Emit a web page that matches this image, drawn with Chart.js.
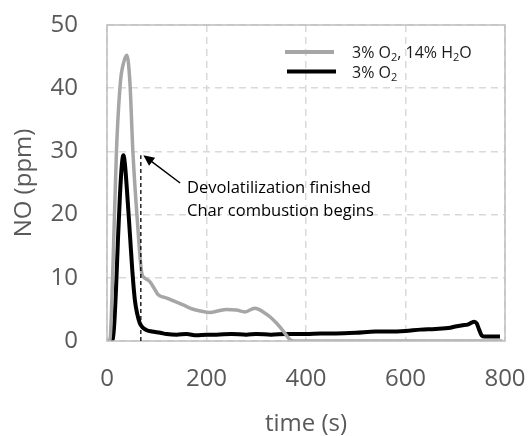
<!DOCTYPE html>
<html>
<head>
<meta charset="utf-8">
<script src="https://cdn.jsdelivr.net/npm/chart.js@4/dist/chart.umd.min.js"></script>
<style>
  html, body { margin: 0; padding: 0; background: #fff; }
  canvas { display: block; }
</style>
</head>
<body>
<canvas id="c" width="531" height="436"></canvas>
<script>
// ---- data ----
const seriesNames = ["3% O2, 14% H2O", "3% O2"];

const timeWet = [0, 6, 12, 19, 27, 34, 40, 46, 52, 61, 70, 75, 86, 95, 103, 120, 135, 153, 170, 190, 207, 225, 240, 260, 277, 290, 297, 305, 314, 328, 341, 355, 368, 376, 450, 550, 650, 750, 795];
const noWet   = [0, 0.3, 12, 30, 41, 44.2, 45.2, 41, 30, 19, 10.7, 10.0, 9.4, 8.3, 7.3, 6.8, 6.3, 5.7, 5.1, 4.7, 4.5, 4.8, 5.0, 4.9, 4.6, 5.0, 5.2, 5.0, 4.6, 3.8, 2.8, 1.5, 0.2, 0, 0, 0, 0, 0, 0];

const timeDry = [0, 10, 14, 18, 22, 26, 30, 33, 36, 40, 46, 51, 56, 61, 66, 72, 80, 90, 107, 120, 140, 160, 180, 200, 220, 250, 280, 300, 330, 360, 400, 430, 460, 500, 540, 570, 600, 630, 660, 690, 700, 715, 725, 733, 738, 743, 748, 753, 760, 790];
const noDry   = [0, 0, 2, 8, 16, 23, 28, 29.4, 28, 24, 17, 11, 6.5, 4.2, 2.8, 2.1, 1.7, 1.5, 1.3, 1.1, 1.0, 1.1, 0.9, 1.0, 1.0, 1.1, 1.0, 1.1, 1.0, 1.1, 1.1, 1.2, 1.2, 1.3, 1.5, 1.5, 1.6, 1.8, 1.9, 2.1, 2.3, 2.5, 2.6, 2.9, 3.05, 2.8, 1.8, 0.9, 0.7, 0.7];

const xTicks = [0, 200, 400, 600, 800];
const yTicks = [0, 10, 20, 30, 40, 50];

const annotationLines = ["Devolatilization finished", "Char combustion begins"];
const markerTime = 68;      // dashed vertical line (s)
const markerTop = 29.4;     // top of dashed line (ppm)
const arrowTail = [147, 25];
const arrowTip = [73, 29.4];
const textAnchor = [161, 24.2];

// ---- chart ----
const toPts = (xs, ys) => xs.map((x, i) => ({ x: x, y: ys[i] }));
const FONT = "'Open Sans', 'Liberation Sans', sans-serif";
const zeroPad = s => { s.paddingLeft = 0; s.paddingRight = 0; s.paddingTop = 0; s.paddingBottom = 0; };

const overlay = {
  id: 'overlay',
  afterDatasetsDraw(chart) {
    const ctx = chart.ctx;
    const xs = chart.scales.x, ys = chart.scales.y;
    const a = chart.chartArea;
    ctx.save();
    // plot border
    ctx.strokeStyle = '#bfbfbf';
    ctx.lineWidth = 1.5;
    ctx.setLineDash([]);
    ctx.strokeRect(a.left, a.top, a.right - a.left, a.bottom - a.top);

    // dashed vertical marker
    const mx = xs.getPixelForValue(markerTime);
    ctx.strokeStyle = '#000';
    ctx.lineWidth = 1.3;
    ctx.setLineDash([4, 3]);
    ctx.beginPath();
    ctx.moveTo(mx, ys.getPixelForValue(0));
    ctx.lineTo(mx, ys.getPixelForValue(markerTop));
    ctx.stroke();
    ctx.setLineDash([]);

    // arrow
    const tx = xs.getPixelForValue(arrowTail[0]), ty = ys.getPixelForValue(arrowTail[1]);
    const hx = xs.getPixelForValue(arrowTip[0]), hy = ys.getPixelForValue(arrowTip[1]);
    const ang = Math.atan2(hy - ty, hx - tx);
    ctx.lineWidth = 1.5;
    ctx.beginPath();
    ctx.moveTo(tx, ty);
    ctx.lineTo(hx - 6 * Math.cos(ang), hy - 6 * Math.sin(ang));
    ctx.stroke();
    ctx.fillStyle = '#000';
    ctx.beginPath();
    ctx.moveTo(hx, hy);
    ctx.lineTo(hx - 11 * Math.cos(ang) + 5 * Math.sin(ang), hy - 11 * Math.sin(ang) - 5 * Math.cos(ang));
    ctx.lineTo(hx - 11 * Math.cos(ang) - 5 * Math.sin(ang), hy - 11 * Math.sin(ang) + 5 * Math.cos(ang));
    ctx.closePath();
    ctx.fill();

    // annotation text
    ctx.font = "16.5px " + FONT;
    ctx.fillStyle = '#000';
    ctx.textAlign = 'left';
    ctx.textBaseline = 'middle';
    const ax = xs.getPixelForValue(textAnchor[0]);
    const ay = ys.getPixelForValue(textAnchor[1]);
    annotationLines.forEach((t, i) => ctx.fillText(t, ax, ay + i * 23.7));

    // legend
    const lx = a.left + 178, ly = a.top + 27;
    const items = [
      { color: '#a6a6a6', parts: [['3% O', 0], ['2', 1], [', 14% H', 0], ['2', 1], ['O', 0]] },
      { color: '#000000', parts: [['3% O', 0], ['2', 1]] }
    ];
    items.forEach((it, i) => {
      const y = ly + i * 19.5;
      ctx.strokeStyle = it.color;
      ctx.lineWidth = 4;
      ctx.beginPath();
      ctx.moveTo(lx + (i ? 2 : 0), y);
      ctx.lineTo(lx + 49 + (i ? 2 : 0), y);
      ctx.stroke();
      let x = lx + 67;
      ctx.fillStyle = '#1a1a1a';
      ctx.textBaseline = 'alphabetic';
      it.parts.forEach(([s, sub]) => {
        ctx.font = (sub ? "11px " : "16px ") + FONT;
        ctx.fillText(s, x, y + 6 + (sub ? 3 : 0));
        x += ctx.measureText(s).width;
      });
    });
    ctx.restore();
  }
};

new Chart(document.getElementById('c'), {
  type: 'line',
  data: {
    datasets: [
      {
        label: seriesNames[0],
        data: toPts(timeWet, noWet),
        borderColor: '#a6a6a6',
        borderWidth: 3.5,
        pointRadius: 0,
        cubicInterpolationMode: 'monotone',
        fill: false
      },
      {
        label: seriesNames[1],
        data: toPts(timeDry, noDry),
        borderColor: '#000000',
        borderWidth: 4,
        pointRadius: 0,
        cubicInterpolationMode: 'monotone',
        fill: false
      }
    ]
  },
  options: {
    responsive: false,
    animation: false,
    devicePixelRatio: 1,
    layout: { padding: { left: 0, right: 26, top: 25, bottom: 0 } },
    plugins: { legend: { display: false }, tooltip: { enabled: false } },
    scales: {
      x: {
        type: 'linear',
        min: 0, max: 800,
        afterBuildTicks: s => { s.ticks = xTicks.map(v => ({ value: v })); },
        afterFit: s => { s.height = 95; zeroPad(s); },
        ticks: { font: { family: FONT, size: 24 }, color: '#595959', padding: 24, maxRotation: 0 },
        grid: { color: '#d9d9d9', lineWidth: 1.5, drawTicks: false },
        border: { display: false, dash: [7, 5] },
        title: { display: true, text: 'time (s)', font: { family: FONT, size: 24, lineHeight: 1.0 }, color: '#595959', padding: 0 }
      },
      y: {
        min: 0, max: 50,
        afterBuildTicks: s => { s.ticks = yTicks.map(v => ({ value: v })); },
        afterFit: s => { s.width = 107; zeroPad(s); },
        ticks: { font: { family: FONT, size: 24 }, color: '#595959', padding: 29 },
        grid: { color: '#d9d9d9', lineWidth: 1.5, drawTicks: false },
        border: { display: false, dash: [7, 5] },
        title: { display: true, text: 'NO (ppm)', font: { family: FONT, size: 24 }, color: '#595959', padding: { top: 10, bottom: 0 } }
      }
    }
  },
  plugins: [overlay]
});
</script>
</body>
</html>
